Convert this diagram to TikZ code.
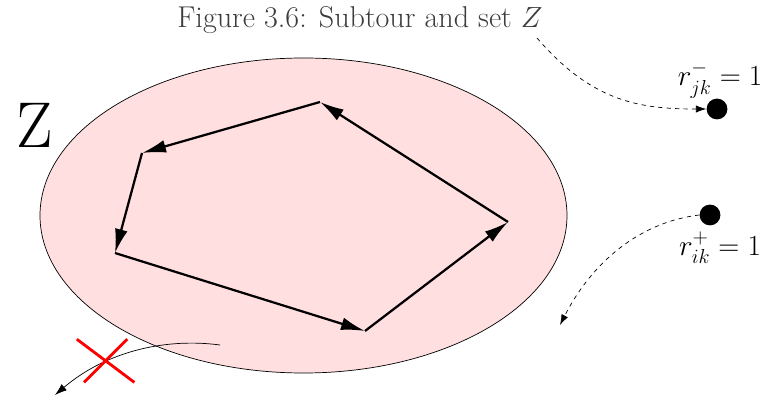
\documentclass[tikz,border=0pt]{standalone}
\usepackage{amsmath}
\usepackage{tikz}
\usetikzlibrary{arrows.meta}
\definecolor{SetPink}{HTML}{FFDFE0}
\definecolor{CaptionGray}{HTML}{3C3C3C}
\tikzset{
  setZ/.style={draw=black,fill=SetPink,line width=0.5pt},
  tourarc/.style={line width=1.6pt,-{Latex[length=6mm,width=3.2mm]}},
  flowarc/.style={dashed,line width=0.5pt,-{Latex[length=2.6mm,width=1.8mm]}},
  leavearc/.style={line width=0.5pt,-{Latex[length=3mm,width=2mm]}},
  reqdot/.style={circle,fill=black,inner sep=0pt,minimum size=0.52cm},
  reqlabel/.style={font=\fontsize{21}{24}\selectfont},
  crossline/.style={draw=red,line width=2pt},
}

\begin{document}
\begin{tikzpicture}
  \useasboundingbox (0,0) rectangle (19.175,10.05);
  % set Z
  \draw[setZ] (7.5875,4.6625) ellipse [x radius=6.5875cm, y radius=3.9375cm];
  \node[font=\fontsize{46}{50}\selectfont] (zlab) at (0.875,6.925) {Z};
  \node[font=\fontsize{21.4}{24}\selectfont,text=CaptionGray] (cap) at (9.0,9.55) {Figure 3.6: Subtour and set $Z$};
  % subtour
  \coordinate (v1) at (8.0,7.5);
  \coordinate (v2) at (3.55,6.225);
  \coordinate (v3) at (2.875,3.725);
  \coordinate (v4) at (9.125,1.775);
  \coordinate (v5) at (12.7,4.5);
  \draw[tourarc] (v5) -- (v1);
  \draw[tourarc] (v1) -- (v2);
  \draw[tourarc] (v2) -- (v3);
  \draw[tourarc] (v3) -- (v4);
  \draw[tourarc] (v4) -- (v5);
  % requests
  \node[reqdot] (rj) at (17.925,7.325) {};
  \node[reqdot] (ri) at (17.75,4.675) {};
  \node[reqlabel] (rjlab) at (18.0,8.05) {$r^-_{jk}=1$};
  \node[reqlabel] (rilab) at (18.0,3.85) {$r^+_{ik}=1$};
  \coordinate (capend) at (13.425,9.1);
  \coordinate (flowend) at (14.0,1.925);
  \draw[flowarc] (capend) .. controls (14.8,7.5) and (16.0,7.325) .. (rj.west);
  \draw[flowarc] (ri.west) .. controls (16.0,4.5) and (14.8,3.5) .. (flowend);
  % forbidden exit
  \coordinate (exitstart) at (5.5,1.425);
  \coordinate (exitend) at (1.375,0.175);
  \draw[leavearc] (exitstart) .. controls (4.2,1.6) and (2.7,1.3) .. (exitend);
  \coordinate (xa) at (1.92,1.57);
  \coordinate (xb) at (3.36,0.49);
  \coordinate (xc) at (3.18,1.57);
  \coordinate (xd) at (2.10,0.49);
  \draw[crossline] (xa) -- (xb);
  \draw[crossline] (xc) -- (xd);
\end{tikzpicture}
\end{document}
